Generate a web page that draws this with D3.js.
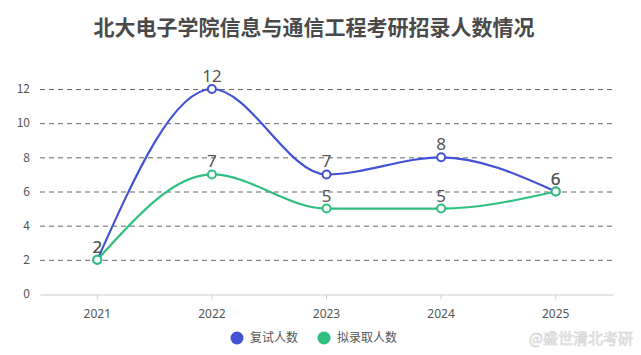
<!DOCTYPE html>
<html><head><meta charset="utf-8">
<script src="https://cdn.jsdelivr.net/npm/d3@7"></script>
<style>body{margin:0;background:#fff;}svg{display:block;font-family:"Noto Sans CJK SC","Noto Sans",sans-serif;}</style>
</head><body>
<svg id="c" width="641" height="355"></svg>
<script>
const title = "北大电子学院信息与通信工程考研招录人数情况";
const categories = ["2021","2022","2023","2024","2025"];
const retestValues = [2,12,7,8,6];
const admitValues = [2,7,5,5,6];
const seriesNames = ["复试人数","拟录取人数"];
const yTicks = [0,2,4,6,8,10,12];
const colors = ["#4252d3","#2fbf7e"];

(function(){
const svg = d3.select("#c");
const pl = 40, pr = 613, pt = 89, pb = 294;
const x = d3.scaleBand().domain(categories).range([pl,pr]);
const y = d3.scaleLinear().domain([0,12]).range([pb,pt]);

svg.append("text").attr("x",314).attr("y",35).attr("text-anchor","middle")
  .attr("font-size",21).attr("font-weight","bold").attr("fill","#4a4a4a").text(title);

svg.append("g").selectAll("line").data(yTicks.filter(d=>d>0)).join("line")
  .attr("x1",pl).attr("x2",pr).attr("y1",d=>y(d)+0.5).attr("y2",d=>y(d)+0.5)
  .attr("stroke","#666").attr("stroke-dasharray","5,4").attr("stroke-width",1);

svg.append("g").selectAll("text").data(yTicks).join("text")
  .attr("x",30).attr("y",d=>y(d)).attr("dy","0.35em").attr("text-anchor","end")
  .attr("font-size",12).attr("fill","#555").text(d=>d);

const xa = svg.append("g").attr("transform",`translate(0,${pb+0.5})`)
  .call(d3.axisBottom(x).tickSize(5).tickSizeOuter(0));
xa.select(".domain").attr("stroke","#ccc");
xa.selectAll(".tick line").attr("stroke","#ccc");
xa.selectAll(".tick text").attr("font-size",12).attr("fill","#555").attr("dy","1.3em")
  .attr("font-family","\"Noto Sans\",sans-serif");

const cx = d => x(d)+x.bandwidth()/2;
const line = d3.line().x((d,i)=>cx(categories[i])).y(d=>y(d)).curve(d3.curveMonotoneX);

[retestValues, admitValues].forEach((vals,si)=>{
  svg.append("path").datum(vals).attr("d",line).attr("fill","none")
    .attr("stroke",colors[si]).attr("stroke-width",2.2);
});
[retestValues, admitValues].forEach((vals,si)=>{
  svg.append("g").selectAll("circle").data(vals).join("circle")
    .attr("cx",(d,i)=>cx(categories[i])).attr("cy",d=>y(d)).attr("r",4)
    .attr("fill","#fff").attr("stroke",colors[si]).attr("stroke-width",2);
  svg.append("g").selectAll("text").data(vals).join("text")
    .attr("x",(d,i)=>cx(categories[i])).attr("y",d=>y(d)-7)
    .attr("text-anchor","middle").attr("font-size",17).attr("fill","#555")
    .attr("font-family","\"Noto Sans\",sans-serif").text(d=>d);
});

const lg = svg.append("g");
const lx = [237,324];
seriesNames.forEach((n,i)=>{
  lg.append("circle").attr("cx",lx[i]).attr("cy",338).attr("r",6.5).attr("fill",colors[i]);
  lg.append("text").attr("x",lx[i]+13).attr("y",338).attr("dy","0.35em")
    .attr("font-size",12).attr("fill","#555").text(n);
});

svg.append("text").attr("x",633).attr("y",339).attr("dy","0.35em").attr("text-anchor","end")
  .attr("font-size",15).attr("fill","#f7f7f7").attr("stroke","#d0d0d0").attr("stroke-width",0.6)
  .text("@盛世清北考研");
})();
</script>
</body></html>
